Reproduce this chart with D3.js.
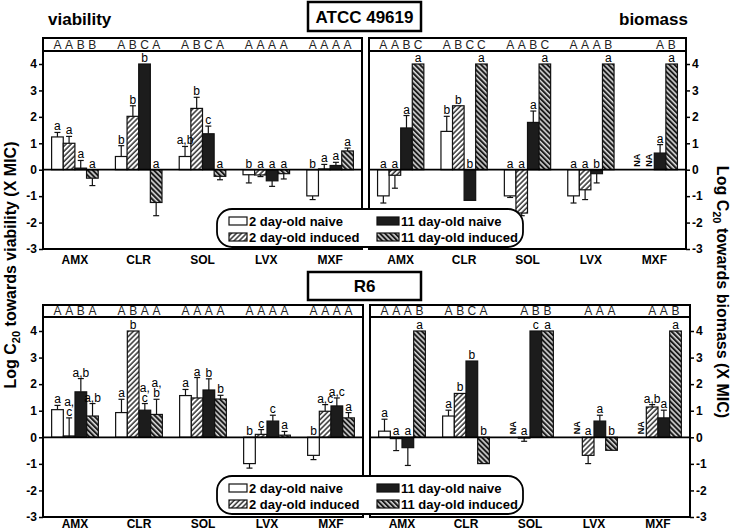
<!DOCTYPE html>
<html><head><meta charset="utf-8">
<script src="https://cdn.jsdelivr.net/npm/d3@7"></script>
<style>body{margin:0;background:#fff}svg{display:block;font-family:Arial,"Liberation Sans",sans-serif}</style>
</head><body><svg id="c" width="733" height="531"></svg>
<script>
const categories = ["AMX","CLR","SOL","LVX","MXF"];
const seriesNames = ["2 day-old naive","2 day-old induced","11 day-old naive","11 day-old induced"];
const yTicks = [-3,-2,-1,0,1,2,3,4];

// ATCC 49619 – viability  [category][series]
const atccViabVal = [[1.24,1.00,0.06,-0.32],[0.50,2.02,4.00,-1.24],[0.50,2.32,1.36,-0.25],[-0.19,-0.20,-0.42,-0.15],[-0.99,0.03,0.16,0.71]];
const atccViabErr = [[1.41,1.26,0.35,-0.60],[0.91,2.42,null,-1.74],[0.88,2.74,1.65,-0.38],[-0.50,-0.26,-0.63,-0.35],[-1.13,0.20,0.28,0.82]];
const atccViabSig = [["a","a","a","a"],["b","b","b","a"],["a,b","b","c","a"],["b","a","a","a"],["b","a","a","a"]];
const atccViabStrip = [["A","A","B","B"],["A","B","C","A"],["A","B","C","A"],["A","A","A","A"],["A","A","A","A"]];

// ATCC 49619 – biomass
const atccBioVal = [[-0.99,-0.21,1.58,4],[1.45,2.42,-1.16,4],[-0.99,-1.64,1.79,4],[-0.99,-0.76,-0.15,4],[null,null,0.63,4]];
const atccBioErr = [[-1.26,-0.70,2.05,null],[2.02,null,null,null],[-1.05,-1.74,2.22,null],[-1.26,-1.13,-0.50,null],[null,null,0.95,null]];
const atccBioSig = [["a","a","a","a"],["b","b","b","a"],["a","a","a","a"],["a","a","b","a"],["NA","NA","a","a"]];
const atccBioStrip = [["A","A","B","C"],["A","B","C","C"],["A","A","B","C"],["A","A","A","B"],["","","A","B"]];

// R6 – viability
const r6ViabVal = [[1.04,0.05,1.71,0.80],[0.93,4.00,1.02,0.86],[1.57,1.48,1.78,1.44],[-0.99,0.11,0.61,0.08],[-0.68,0.98,1.18,0.73]];
const r6ViabErr = [[1.20,0.73,2.21,1.27],[1.43,null,1.27,1.43],[1.80,2.25,2.20,1.58],[-1.16,0.29,0.83,0.22],[-0.84,1.23,1.48,0.93]];
const r6ViabSig = [["a","a,\nc","a,b","a,b"],["a","b","a,\nc","a,\nb"],["a","a","b","b"],["b","c","c","a"],["b","a,c","a,c","a"]];
const r6ViabStrip = [["A","A","B","A"],["A","B","A","A"],["A","A","A","A"],["A","A","A","A"],["A","A","A","A"]];

// R6 – biomass
const r6BioVal = [[0.23,-0.05,-0.39,4],[0.80,1.65,2.87,-0.99],[null,-0.03,4,4],[null,-0.68,0.61,-0.49],[null,1.14,0.73,4]];
const r6BioErr = [[0.68,-0.50,-1.06,null],[1.02,null,null,null],[null,-0.15,null,null],[null,-0.99,0.83,null],[null,1.23,1.02,null]];
const r6BioSig = [["a","a","a","a"],["a","b","b","b"],["NA","a","c","a"],["NA","a","a","b"],["NA","a,b","a","a"]];
const r6BioStrip = [["A","A","A","B"],["A","B","C","A"],["","A","B","B"],["","A","A","A"],["","A","A","B"]];

const svg = d3.select("#c");
const defs = svg.append("defs");
function pat(id, bg, fg, rot){
  const p = defs.append("pattern").attr("id",id).attr("patternUnits","userSpaceOnUse")
    .attr("width",3.6).attr("height",3.6).attr("patternTransform",`rotate(${rot})`);
  p.append("rect").attr("width",3.6).attr("height",3.6).attr("fill",bg);
  p.append("line").attr("x1",1).attr("x2",1).attr("y1",-1).attr("y2",5).attr("stroke",fg).attr("stroke-width",1.3);
}
pat("hUp","#fff","#111",45);
pat("hDown","#1c1c1c","#fff",-45);
const fills = ["#fff","url(#hUp)","#1c1c1c","url(#hDown)"];

const panels = [
  {x0:43,x1:362,yTop:38,yStrip:51,y4:64,yB:249,side:"left",pad:6,val:atccViabVal,err:atccViabErr,sig:atccViabSig,strip:atccViabStrip},
  {x0:369,x1:686,yTop:38,yStrip:51,y4:64,yB:249,side:"right",pad:6,val:atccBioVal,err:atccBioErr,sig:atccBioSig,strip:atccBioStrip},
  {x0:43,x1:363,yTop:305,yStrip:317,y4:331,yB:517,side:"left",pad:2.5,val:r6ViabVal,err:r6ViabErr,sig:r6ViabSig,strip:r6ViabStrip},
  {x0:370,x1:690,yTop:305,yStrip:317,y4:331,yB:517,side:"right",pad:2.5,val:r6BioVal,err:r6BioErr,sig:r6BioSig,strip:r6BioStrip}
];

panels.forEach(p=>{
  const x = d3.scaleBand().domain(categories).range([p.x0,p.x1]).paddingInner(0.27).paddingOuter(0.135);
  const sub = d3.scaleBand().domain(d3.range(seriesNames.length)).range([0,x.bandwidth()]);
  const y = d3.scaleLinear().domain([-3,4]).range([p.yB,p.y4]);
  const g = svg.append("g");
  const rows = categories.flatMap((c,ci)=>seriesNames.map((s,si)=>({c,si,v:p.val[ci][si],e:p.err[ci][si],sig:p.sig[ci][si],st:p.strip[ci][si]})));
  const cx = d=>x(d.c)+sub(d.si)+sub.bandwidth()/2;

  g.selectAll("rect.bar").data(rows.filter(d=>d.v!=null)).join("rect").attr("class","bar")
    .attr("x",d=>x(d.c)+sub(d.si)).attr("width",sub.bandwidth())
    .attr("y",d=>y(Math.max(0,d.v))).attr("height",d=>Math.abs(y(d.v)-y(0)))
    .attr("fill",d=>fills[d.si]).attr("stroke","#111").attr("stroke-width",1.2);

  const eb = rows.filter(d=>d.v!=null && d.e!=null);
  g.selectAll("line.ev").data(eb).join("line").attr("class","ev")
    .attr("x1",cx).attr("x2",cx).attr("y1",d=>y(d.v)).attr("y2",d=>y(d.e))
    .attr("stroke","#111").attr("stroke-width",1.2);
  g.selectAll("line.ec").data(eb).join("line").attr("class","ec")
    .attr("x1",d=>cx(d)-3).attr("x2",d=>cx(d)+3).attr("y1",d=>y(d.e)).attr("y2",d=>y(d.e))
    .attr("stroke","#111").attr("stroke-width",1.2);

  g.append("line").attr("x1",p.x0).attr("x2",p.x1).attr("y1",y(0)).attr("y2",y(0)).attr("stroke","#000").attr("stroke-width",1.8);

  g.append("rect").attr("x",p.x0).attr("y",p.yTop).attr("width",p.x1-p.x0).attr("height",p.yB-p.yTop)
    .attr("fill","none").attr("stroke","#000").attr("stroke-width",2);
  g.append("line").attr("x1",p.x0).attr("x2",p.x1).attr("y1",p.yStrip).attr("y2",p.yStrip).attr("stroke","#000").attr("stroke-width",2);
  g.selectAll("text.st").data(rows.filter(d=>d.st)).join("text").attr("class","st")
    .attr("x",cx).attr("y",p.yStrip-2.5).attr("text-anchor","middle").attr("font-size",12).attr("fill","#222").text(d=>d.st);

  rows.forEach(d=>{
    if(d.sig==="NA"){
      g.append("text").attr("transform",`translate(${cx(d)+3.5},${y(0)-3}) rotate(-90)`)
        .attr("font-size",9).attr("font-weight","bold").text("NA");
      return;
    }
    if(d.v==null) return;
    const top = d.v>=0 ? Math.max(d.v, d.e==null? d.v : d.e) : 0;
    const lines = d.sig.split("\n");
    lines.forEach((t,i)=>{
      g.append("text").attr("x",cx(d)).attr("y",y(top)-2-(lines.length-1-i)*10)
        .attr("text-anchor","middle").attr("font-size",12).attr("fill","#000").text(t);
    });
  });

  const ay = (p.side==="left"? d3.axisLeft(y) : d3.axisRight(y)).tickValues(yTicks).tickSize(4).tickPadding(2).tickFormat(d=>String(d));
  const ga = g.append("g").attr("transform",`translate(${p.side==="left"?p.x0:p.x1},0)`).call(ay);
  ga.select(".domain").remove();
  ga.selectAll("line").attr("stroke-width",1.5);
  ga.selectAll("text").attr("font-size",12).attr("font-weight","bold").attr("font-family","Arial, 'Liberation Sans', sans-serif").attr("fill","#000");
  const gx = g.append("g").attr("transform",`translate(0,${p.yB})`).call(d3.axisBottom(x).tickSize(0).tickPadding(p.pad));
  gx.select(".domain").remove();
  gx.selectAll("text").attr("font-size",12).attr("font-weight","bold").attr("font-family","Arial, 'Liberation Sans', sans-serif").attr("fill","#000");
});

function legend(yTop){
  const g = svg.append("g");
  g.append("rect").attr("x",217).attr("y",yTop).attr("width",306).attr("height",38).attr("rx",15)
    .attr("fill","#fff").attr("stroke","#000").attr("stroke-width",1.8);
  const pos = [[229,yTop+8,18],[229,yTop+24,18],[377,yTop+8,22],[377,yTop+24,22]];
  seriesNames.forEach((s,i)=>{
    const [lx,ly,w] = pos[i];
    g.append("rect").attr("x",lx).attr("y",ly).attr("width",w).attr("height",8).attr("fill",fills[i]).attr("stroke","#111").attr("stroke-width",1.2);
    g.append("text").attr("x",lx+w+2).attr("y",ly+8.5).attr("font-size",13).attr("font-weight","bold").text(s);
  });
}
legend(209);
legend(476);

svg.append("text").attr("x",48).attr("y",25).attr("font-size",17).attr("font-weight","bold").text("viability");
svg.append("text").attr("x",688).attr("y",25).attr("text-anchor","end").attr("font-size",17).attr("font-weight","bold").text("biomass");
function boxTitle(yTop, h, t){
  svg.append("rect").attr("x",308).attr("y",yTop).attr("width",113).attr("height",h).attr("fill","#fff").attr("stroke","#000").attr("stroke-width",2.5);
  svg.append("text").attr("x",364.5).attr("y",yTop+h/2+6).attr("text-anchor","middle").attr("font-size",17).attr("font-weight","bold").text(t);
}
boxTitle(2,29,"ATCC 49619");
boxTitle(272,28,"R6");

function yTitle(tr, word){
  const t = svg.append("text").attr("transform",tr).attr("text-anchor","middle").attr("font-size",16).attr("font-weight","bold");
  t.append("tspan").text("Log C");
  t.append("tspan").attr("font-size",11).attr("dy",4).text("20");
  t.append("tspan").attr("dy",-4).text(` towards ${word} (X MIC)`);
}
yTitle("translate(16,265) rotate(-90)","viability");
yTitle("translate(717,292) rotate(90)","biomass");
</script></body></html>
